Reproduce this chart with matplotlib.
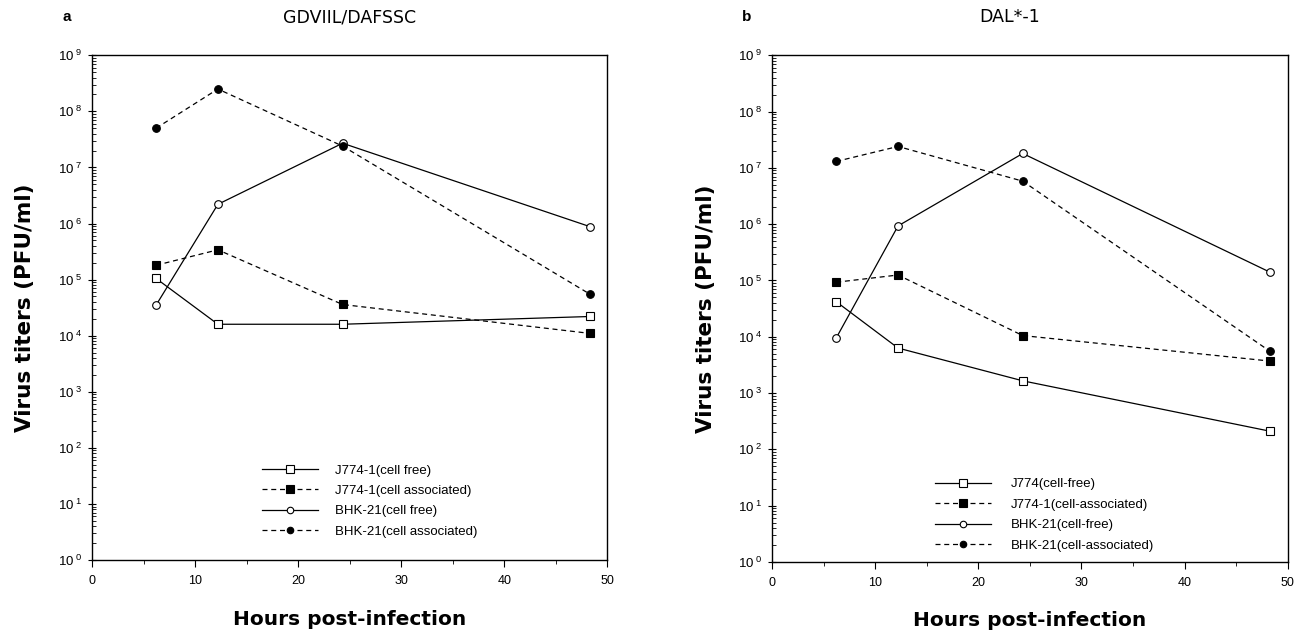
import matplotlib
matplotlib.use('Agg')
import matplotlib.pyplot as plt
from matplotlib.ticker import LogLocator, FixedLocator, FuncFormatter, NullFormatter

plt.rcParams['font.family'] = ['Liberation Sans Narrow', 'Liberation Sans', 'DejaVu Sans']

# hours post-infection
hours = [6.2, 12.2, 24.3, 48.3]

# panel a: GDVIIL/DAFSSC
a_j774_free = [1.05e5, 1.6e4, 1.6e4, 2.2e4]
a_j774_assoc = [1.8e5, 3.4e5, 3.6e4, 1.1e4]
a_bhk_free = [3.5e4, 2.2e6, 2.7e7, 8.8e5]
a_bhk_assoc = [5.0e7, 2.5e8, 2.4e7, 5.5e4]
a_labels = ['J774-1(cell free)', 'J774-1(cell associated)',
            'BHK-21(cell free)', 'BHK-21(cell associated)']

# panel b: DAL*-1
b_j774_free = [4.2e4, 6.3e3, 1.65e3, 2.1e2]
b_j774_assoc = [9.3e4, 1.25e5, 1.05e4, 3.7e3]
b_bhk_free = [9.5e3, 9.3e5, 1.8e7, 1.4e5]
b_bhk_assoc = [1.3e7, 2.4e7, 5.8e6, 5.5e3]
b_labels = ['J774(cell-free)', 'J774-1(cell-associated)',
            'BHK-21(cell-free)', 'BHK-21(cell-associated)']

styles = [
    dict(ls='-', marker='s', mfc='white', ms=6),
    dict(ls=(0, (4, 3)), marker='s', mfc='black', ms=6),
    dict(ls='-', marker='o', mfc='white', ms=5.5),
    dict(ls=(0, (4, 3)), marker='o', mfc='black', ms=5.5),
]


def exp_fmt(v, pos):
    e = 0
    while 10 ** e < v * 0.999:
        e += 1
    return r'$\mathregular{10^{\ %d}}$' % e


def draw(ax, series, labels, title, letter, title_x, leg_anchor, leg_pad):
    for ys, lab, st in zip(series, labels, styles):
        ax.plot(hours, ys, color='black', lw=0.9, mec='black', mew=0.8,
                label=lab, **st)
    ax.set_yscale('log')
    ax.set_ylim(1, 1e9)
    ax.set_xlim(0, 50)
    ax.yaxis.set_major_locator(LogLocator(base=10, numticks=12))
    ax.yaxis.set_minor_locator(LogLocator(base=10, subs=range(2, 10), numticks=12))
    ax.yaxis.set_major_formatter(FuncFormatter(exp_fmt))
    ax.yaxis.set_minor_formatter(NullFormatter())
    ax.xaxis.set_major_locator(FixedLocator([0, 10, 20, 30, 40, 50]))
    ax.xaxis.set_minor_locator(FixedLocator([5, 15, 25, 35, 45]))
    ax.tick_params(axis='y', which='major', direction='inout', length=6, width=0.8, labelsize=9.5, pad=4)
    ax.tick_params(axis='y', which='minor', direction='in', length=3, width=0.6)
    ax.tick_params(axis='x', which='major', direction='out', length=5, width=0.8, labelsize=9, pad=6)
    ax.tick_params(axis='x', which='minor', direction='out', length=3, width=0.6)
    for sp in ax.spines.values():
        sp.set_linewidth(1.0)
    ax.set_xlabel('Hours post-infection', fontsize=14.5, fontweight='bold',
                  family=['DejaVu Sans'], labelpad=16)
    ax.set_ylabel('Virus titers (PFU/ml)', fontsize=15.5, fontweight='bold',
                  family=['DejaVu Sans'], labelpad=16)
    ax.text(title_x, 1.075, title, transform=ax.transAxes, fontsize=12.5,
            ha='center', va='center', family=['DejaVu Sans'])
    ax.text(-0.05, 1.075, letter, transform=ax.transAxes, fontsize=11,
            fontweight='bold', ha='center', va='center')
    ax.legend(loc='upper left', bbox_to_anchor=leg_anchor, frameon=False,
              fontsize=9.5, handlelength=4.2, handletextpad=leg_pad, labelspacing=0.62,
              numpoints=1, markerscale=0.85)


fig = plt.figure(figsize=(12.98, 6.35), dpi=100)
ax1 = fig.add_axes([0.071, 0.118, 0.397, 0.795])
ax2 = fig.add_axes([0.595, 0.115, 0.397, 0.798])

draw(ax1, [a_j774_free, a_j774_assoc, a_bhk_free, a_bhk_assoc], a_labels,
     'GDVIIL/DAFSSC', 'a', 0.5, (0.307, 0.213), 1.3)
draw(ax2, [b_j774_free, b_j774_assoc, b_bhk_free, b_bhk_assoc], b_labels,
     'DAL*-1', 'b', 0.46, (0.293, 0.189), 1.5)

fig.savefig('out.png', dpi=100)
